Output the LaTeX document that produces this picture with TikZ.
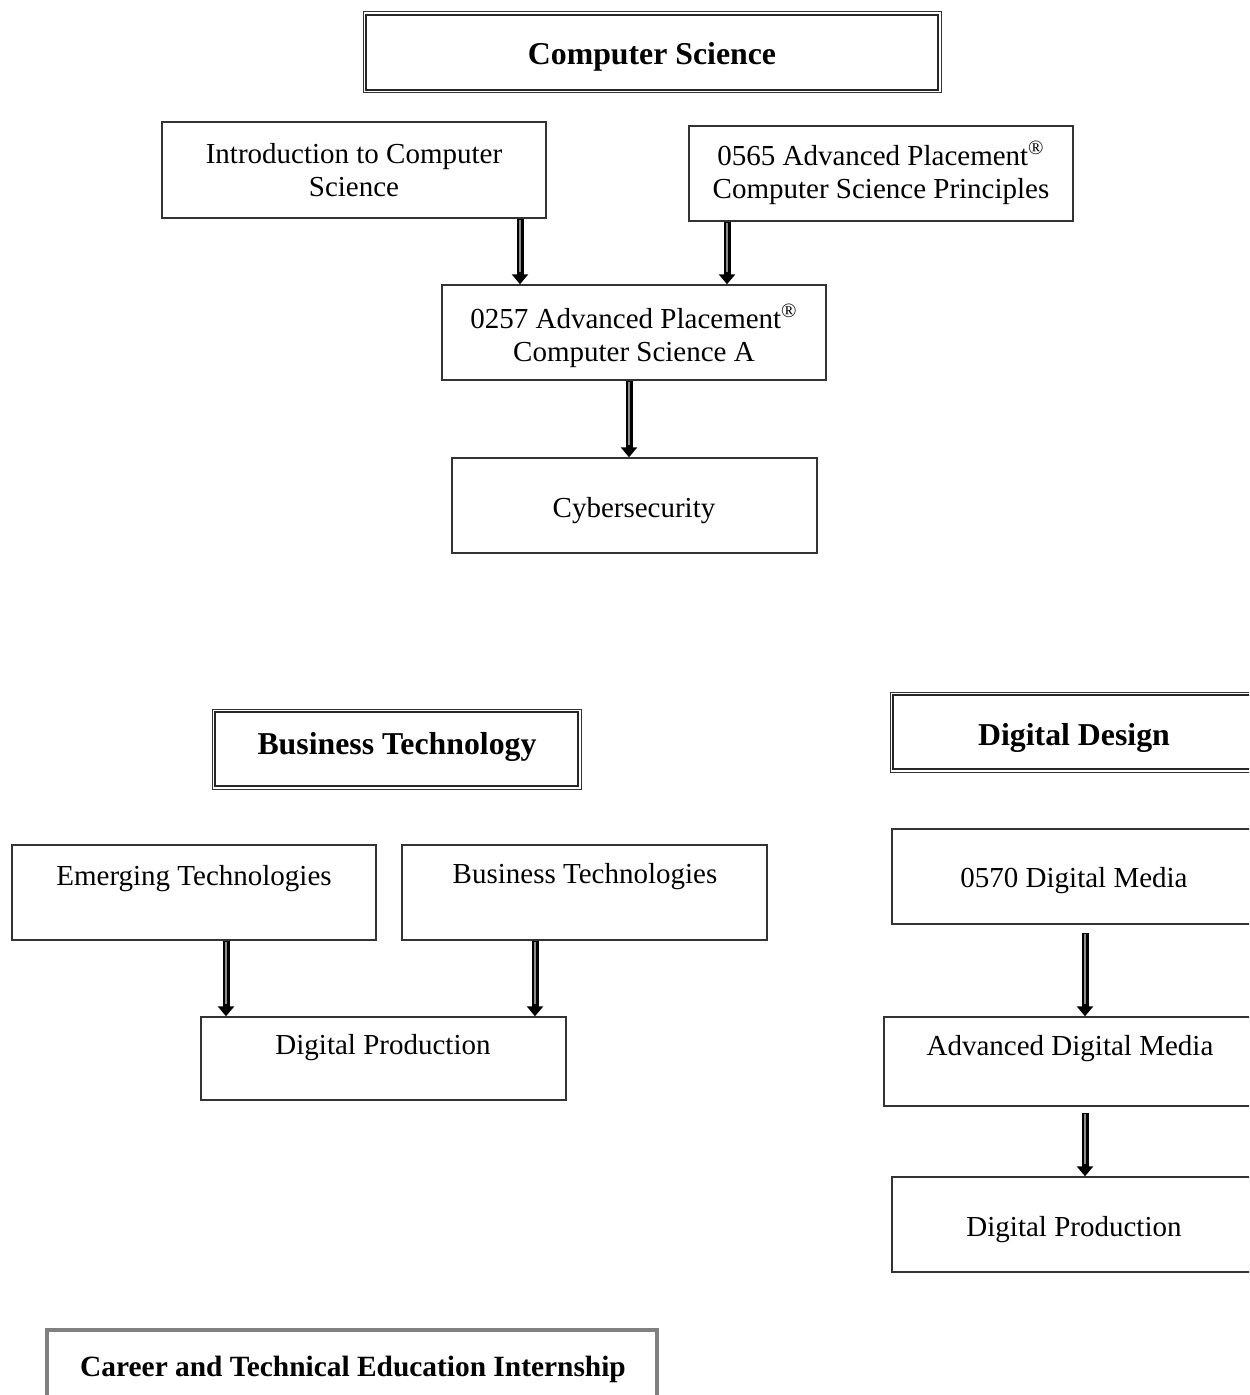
\documentclass[tikz,border=0pt]{standalone}
\usepackage{fontspec}
\setmainfont{Liberation Serif}
\usetikzlibrary{fit,arrows.meta}
\begin{document}
\begin{tikzpicture}[x=0.5pt,y=-0.5pt,
  box/.style={draw=black!80,line width=0.7pt,inner sep=0pt},
  dbox/.style={draw=black!80,line width=0.5pt,inner sep=0pt},
  gbox/.style={draw=black!50,line width=2pt,inner sep=0pt},
  txt/.style={font=\fontsize{14.5}{16.5}\selectfont,align=center,inner sep=0pt},
  ttl/.style={font=\fontsize{15.9}{18}\selectfont\bfseries,align=center,inner sep=0pt},
  fat/.style={draw=black,line width=3.5pt,-{Triangle[width=8pt,length=5pt]},
    postaction={draw=black!45,line width=1.4pt,-,shorten >=6pt,shorten <=0.7pt}}]
\useasboundingbox (0,0) rectangle (1249,1395);
\clip (0,0) rectangle (1249,1395);
% ---------- Computer Science ----------
\node[dbox,fit={(363,12) (941,93)}] (cs) {};
\draw[line width=1pt,black!85] ([shift={(1.8pt,-1.8pt)}]cs.north west) rectangle ([shift={(-1.8pt,1.8pt)}]cs.south east);
\node[ttl] (cst) at (652,57) {Computer Science};

\node[box,fit={(162,122) (546,218)}] (intro) {};
\node[txt] (introt) at (354,170) {Introduction to Computer\\Science};
\node[box,fit={(689,126) (1073,221)}] (csp) {};
\node[txt] (cspt) at (881,173) {0565 Advanced Placement\textsuperscript{®}\\Computer Science Principles};
\node[box,fit={(442,285) (826,380)}] (csa) {};
\node[txt] (csat) at (634,336) {0257 Advanced Placement\textsuperscript{®}\\Computer Science A};
\node[box,fit={(452,458) (817,553)}] (cyb) {};
\node[txt] (cybt) at (634,511) {Cybersecurity};

\coordinate (x1) at (520,0);
\coordinate (x2) at (727,0);
\coordinate (x3) at (629,0);
\draw[fat] (intro.south -| x1) -- (csa.north -| x1);
\draw[fat] (csp.south -| x2) -- (csa.north -| x2);
\draw[fat] (csa.south -| x3) -- (cyb.north -| x3);

% ---------- Business Technology ----------
\node[dbox,fit={(212,709) (581,789)}] (bt) {};
\draw[line width=1pt,black!85] ([shift={(1.8pt,-1.8pt)}]bt.north west) rectangle ([shift={(-1.8pt,1.8pt)}]bt.south east);
\node[ttl] (btt) at (397,747) {Business Technology};

\node[box,fit={(12,845) (376,940)}] (em) {};
\node[txt] (emt) at (194,879) {Emerging Technologies};
\node[box,fit={(402,845) (767,940)}] (bus) {};
\node[txt] (bust) at (585,877) {Business Technologies};
\node[box,fit={(201,1017) (566,1100)}] (dp) {};
\node[txt] (dpt) at (383,1048) {Digital Production};

\coordinate (x4) at (226,0);
\coordinate (x5) at (535,0);
\draw[fat] (em.south -| x4) -- (dp.north -| x4);
\draw[fat] (bus.south -| x5) -- (dp.north -| x5);

% ---------- Digital Design ----------
\node[dbox,fit={(890,692) (1262,772)}] (dd) {};
\draw[line width=1pt,black!85] ([shift={(1.8pt,-1.8pt)}]dd.north west) rectangle ([shift={(-1.8pt,1.8pt)}]dd.south east);
\node[ttl] (ddt) at (1074,738) {Digital Design};

\node[box,fit={(892,829) (1262,924)}] (dm) {};
\node[txt] (dmt) at (1074,881) {0570 Digital Media};
\node[box,fit={(884,1017) (1262,1106)}] (adm) {};
\node[txt] (admt) at (1070,1049) {Advanced Digital Media};
\node[box,fit={(892,1177) (1262,1272)}] (dp2) {};
\node[txt] (dp2t) at (1074,1230) {Digital Production};

\coordinate (x6) at (1085,0);
\draw[fat] ([yshift=-4pt]dm.south -| x6) -- (adm.north -| x6);
\draw[fat] ([yshift=-3pt]adm.south -| x6) -- (dp2.north -| x6);

% ---------- Internship ----------
\node[gbox,fit={(47,1330) (657,1430)}] (cte) {};
\node[ttl,font=\fontsize{14.7}{17}\selectfont\bfseries] (ctet) at (353,1369) {Career and Technical Education Internship};
\end{tikzpicture}
\end{document}
